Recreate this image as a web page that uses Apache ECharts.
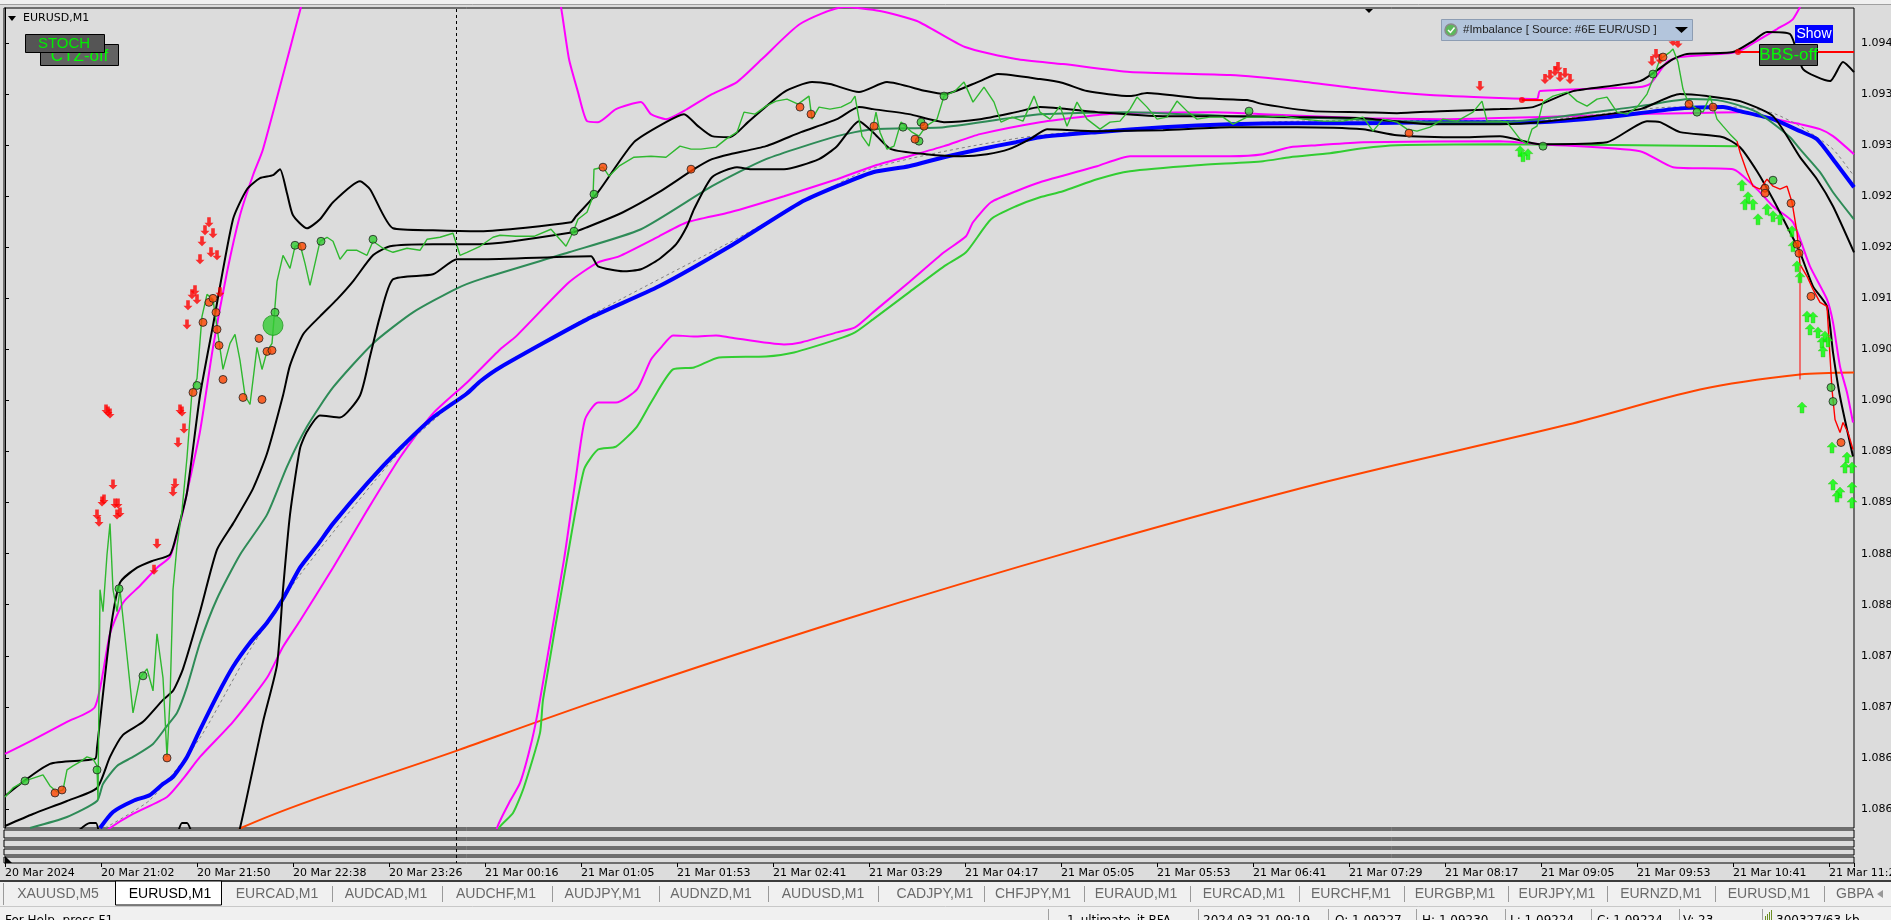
<!DOCTYPE html>
<html><head><meta charset="utf-8">
<script src="https://cdn.jsdelivr.net/npm/echarts@6/dist/echarts.min.js"></script>
<style>html,body{margin:0;padding:0;background:#dcdcdc;overflow:hidden}#c{width:1891px;height:920px}</style>
</head><body><div id="c"></div>
<script>
// ---------- DATA (x = bar index, 1 bar per minute; y = price) ----------
const xTickLabels = ['20 Mar 2024','20 Mar 21:02','20 Mar 21:50','20 Mar 22:38','20 Mar 23:26','21 Mar 00:16','21 Mar 01:05','21 Mar 01:53','21 Mar 02:41','21 Mar 03:29','21 Mar 04:17','21 Mar 05:05','21 Mar 05:53','21 Mar 06:41','21 Mar 07:29','21 Mar 08:17','21 Mar 09:05','21 Mar 09:53','21 Mar 10:41','21 Mar 11:29'];
const yTickLabels = ['1.08640','1.08691','1.08742','1.08793','1.08844','1.08895','1.08946','1.08997','1.09048','1.09099','1.09150','1.09201','1.09252','1.09303','1.09354','1.09405'];

const priceUp = [[0,1.08652],[4,1.08661],[10,1.08668],[16,1.08672],[19,1.08674],[22.5,1.08663],[26,1.08657],[29,1.08659],[31,1.08679],[34,1.08683],[37.5,1.08687],[41,1.08692],[44,1.08690],[46,1.08683],[46.5,1.08649],[47.5,1.08859],[49,1.08837],[51,1.08894],[52.5,1.08925],[54,1.08859],[56,1.08837],[57.5,1.08859],[61,1.08793],[64,1.08736],[67.5,1.08771],[71,1.08780],[74,1.08758],[76,1.08815],[79,1.08771],[81,1.08692],[82.5,1.08749],[84,1.08859],[86,1.08903],[88.5,1.08938],[91,1.08991],[93.5,1.09057],[96,1.09070],[98.5,1.09132],[101,1.09154],[104,1.09149],[106.5,1.09114],[109,1.09079],[112.5,1.09105],[115,1.09114],[117.5,1.09088],[120,1.09053],[122.5,1.09044],[126,1.09101],[128.5,1.09079],[131,1.09097],[133.5,1.09105],[136,1.09167],[139,1.09193],[142.5,1.09180],[145,1.09202],[147.5,1.09204],[150,1.09185],[152.5,1.09163],[155,1.09185],[157.5,1.09207],[161,1.09211],[164,1.09207],[167.5,1.09189],[171,1.09198],[176,1.09198],[181,1.09193],[184,1.09207],[189,1.09200],[194,1.09196],[201,1.09200],[207.5,1.09198],[211,1.09209],[217.5,1.09211],[224,1.09215],[227.5,1.09193],[231,1.09196],[237.5,1.09202],[244,1.09211],[247.5,1.09213],[255.5,1.09212],[264.5,1.09212],[273,1.09219],[280.5,1.09202],[284,1.09216],[286.5,1.09229],[291,1.09236],[294,1.09252],[294.5,1.09279],[299,1.09281],[302,1.09272],[307,1.09282],[314.5,1.09291],[323,1.09292],[330.5,1.09291],[337.5,1.09302],[343,1.09299],[348,1.09299],[355.5,1.09301],[360.5,1.09309],[366,1.09316],[369.5,1.09336],[375,1.09334],[380.5,1.09342],[385.5,1.09347],[391,1.09349],[396.5,1.09344],[402,1.09352],[403.5,1.09329],[407,1.09341],[412.5,1.09339],[418,1.09341],[423,1.09346],[425,1.09352],[428.5,1.09312],[432,1.09302],[435.5,1.09336],[437.5,1.09316],[441,1.09299],[444.5,1.09302],[448,1.09326],[453.5,1.09316],[457,1.09312],[460.5,1.09322],[466,1.09329],[469.5,1.09352],[475,1.09357],[479.5,1.09366],[484,1.09346],[489.5,1.09361],[494.5,1.09346],[498,1.09326],[503.5,1.09331],[509,1.09327],[514.5,1.09352],[517.5,1.09336],[522.5,1.09329],[527.5,1.09342],[531,1.09322],[536,1.09346],[541,1.09329],[547.5,1.09319],[552.5,1.09326],[557.5,1.09327],[562.5,1.09339],[566,1.09351],[571,1.09341],[576,1.09329],[581,1.09331],[586,1.09347],[591,1.09337],[596,1.09329],[602.5,1.09331],[609,1.09331],[614,1.09324],[621,1.09331],[629,1.09331],[639,1.09332],[649,1.09329],[659,1.09327],[669,1.09327],[679,1.09331],[684,1.09317],[689,1.09329],[696,1.09326],[701,1.09319],[706,1.09317],[712.5,1.09321],[719,1.09329],[726,1.09327],[734,1.09336],[738.5,1.09347],[741,1.09327],[747.5,1.09327],[751,1.09326],[757.5,1.09309],[761,1.09304],[763.5,1.09319],[766,1.09322],[769,1.09346],[774,1.09352],[781,1.09356],[786,1.09347],[791,1.09342],[796,1.09349],[801,1.09351],[806,1.09336],[811,1.09334],[816,1.09341],[821,1.09354],[824,1.09369],[827.5,1.09389],[832.5,1.09396],[834,1.09399],[836.5,1.09386],[839,1.09359],[841.5,1.09346],[846,1.09339],[849,1.09336],[852.5,1.09352],[856,1.09329],[859,1.09322],[862.5,1.09314],[866,1.09307]];
const priceDown = [[866,1.09307],[867.5,1.09296],[871,1.09276],[874,1.09262],[877.5,1.09259],[881,1.09269],[884,1.09262],[887.5,1.09259],[891,1.09262],[893.5,1.09246],[896,1.09216],[897.5,1.09184],[901,1.09172],[904,1.09159],[907.5,1.09146],[911,1.09142],[913.5,1.09059],[915,1.09029],[917.5,1.09016],[919,1.09026],[921.5,1.09016],[924,1.08999]];
const redWick = [[897.5,1.09182],[897.5,1.09069]];

const bandUpper = [[0,1.08653],[22.5,1.08685],[45,1.08690],[46,1.08701],[52.5,1.08815],[57.5,1.08866],[66,1.08881],[74,1.08888],[82.5,1.08894],[86,1.08916],[91,1.08956],[97.5,1.09053],[104,1.09123],[114,1.09229],[121,1.09259],[127.5,1.09270],[134,1.09273],[137.5,1.09279],[141,1.09255],[144,1.09233],[151,1.09220],[157.5,1.09229],[164,1.09246],[177.5,1.09267],[182.5,1.09259],[194,1.09220],[214,1.09218],[237.5,1.09217],[283,1.09226],[285.5,1.09232],[296.5,1.09256],[314.5,1.09306],[330.5,1.09326],[339.5,1.09334],[346.5,1.09322],[353.5,1.09312],[362.5,1.09311],[371.5,1.09326],[389.5,1.09356],[403.5,1.09366],[412.5,1.09364],[427,1.09356],[441,1.09366],[460.5,1.09357],[469.5,1.09354],[487.5,1.09367],[496.5,1.09374],[517.5,1.09369],[529,1.09365],[541,1.09357],[562.5,1.09352],[571,1.09355],[596,1.09350],[621,1.09348],[629,1.09344],[654,1.09337],[679,1.09336],[696,1.09335],[717.5,1.09337],[747.5,1.09339],[764,1.09341],[784,1.09357],[817.5,1.09367],[834,1.09389],[841,1.09394],[864,1.09396],[874,1.09407],[881,1.09416],[892.5,1.09414],[899,1.09379],[912.5,1.09367],[919,1.09386],[924.5,1.09376]];
const bandMiddle = [[0,1.08623],[14,1.08635],[31,1.08648],[46,1.08661],[52.5,1.08692],[59,1.08714],[69,1.08727],[79,1.08749],[84,1.08758],[89,1.08780],[97.5,1.08837],[106,1.08899],[114,1.08925],[124,1.08960],[131,1.08995],[139,1.09053],[142.5,1.09083],[149,1.09114],[157.5,1.09132],[166,1.09149],[174,1.09167],[184,1.09193],[192.5,1.09202],[214,1.09204],[237.5,1.09204],[284,1.09216],[291,1.09221],[309,1.09236],[327,1.09256],[344.5,1.09279],[353.5,1.09289],[362.5,1.09294],[380.5,1.09302],[398,1.09316],[416,1.09329],[427,1.09341],[434,1.09339],[452,1.09334],[469.5,1.09326],[487.5,1.09329],[505.5,1.09336],[517.5,1.09341],[546,1.09336],[579,1.09332],[612.5,1.09332],[646,1.09331],[679,1.09330],[712.5,1.09324],[747.5,1.09324],[767.5,1.09326],[817.5,1.09339],[837.5,1.09354],[851,1.09352],[867.5,1.09347],[884,1.09332],[897.5,1.09291],[906,1.09269],[914,1.09242],[924.5,1.09196]];
const bandLower = [[27.5,1.08599],[42.5,1.08626],[45.5,1.08626],[50,1.08599],[82.5,1.08599],[88.5,1.08626],[91,1.08626],[97.5,1.08599],[113.5,1.08599],[117.5,1.08621],[129,1.08727],[136,1.08784],[139,1.08859],[142.5,1.08934],[147.5,1.09000],[151,1.09017],[157.5,1.09033],[167.5,1.09031],[177.5,1.09053],[182.5,1.09092],[187.5,1.09132],[194,1.09169],[214,1.09174],[226,1.09189],[237.5,1.09189],[293,1.09192],[296.5,1.09182],[309,1.09177],[318,1.09179],[327,1.09189],[335.5,1.09204],[341,1.09222],[344.5,1.09239],[353.5,1.09271],[366,1.09281],[373,1.09279],[389.5,1.09279],[407,1.09289],[416,1.09302],[427,1.09327],[434,1.09316],[443,1.09299],[460.5,1.09294],[478.5,1.09292],[491,1.09294],[502,1.09299],[512.5,1.09309],[521,1.09319],[546,1.09317],[579,1.09318],[612.5,1.09321],[646,1.09321],[679,1.09319],[696,1.09313],[729,1.09311],[747.5,1.09312],[767.5,1.09304],[801,1.09306],[821,1.09327],[827.5,1.09326],[837.5,1.09316],[859,1.09311],[867.5,1.09301],[876,1.09277],[884,1.09249],[891,1.09222],[897.5,1.09196],[904,1.09162],[911,1.09142],[914,1.09096],[917.5,1.09052],[924,1.08992]];
const maSeaGreen = [[12.5,1.08621],[31,1.08632],[46,1.08648],[49,1.08665],[56,1.08683],[64,1.08692],[74,1.08705],[81,1.08723],[86,1.08736],[91,1.08762],[97.5,1.08806],[106,1.08850],[117.5,1.08894],[131,1.08934],[141,1.08982],[151,1.09022],[164,1.09061],[184,1.09105],[204,1.09136],[226,1.09160],[237.5,1.09169],[282,1.09196],[318,1.09219],[353.5,1.09262],[380.5,1.09289],[416,1.09312],[434,1.09319],[469.5,1.09321],[505.5,1.09331],[517.5,1.09334],[562.5,1.09336],[612.5,1.09332],[662.5,1.09330],[712.5,1.09326],[747.5,1.09326],[817.5,1.09342],[842.5,1.09349],[859,1.09347],[876,1.09336],[892.5,1.09311],[897.5,1.09299],[907.5,1.09276],[914,1.09256],[924.5,1.09229]];
const maBlue = [[47.5,1.08621],[54,1.08637],[64,1.08648],[72.5,1.08654],[79,1.08665],[84,1.08672],[91,1.08692],[97.5,1.08719],[106,1.08753],[114,1.08782],[122.5,1.08806],[131,1.08826],[139,1.08850],[147.5,1.08881],[156,1.08903],[164,1.08925],[181,1.08965],[197.5,1.09000],[214,1.09031],[231,1.09055],[237.5,1.09067],[247.5,1.09081],[291,1.09129],[327,1.09162],[362.5,1.09202],[398,1.09246],[416,1.09262],[434,1.09276],[452,1.09282],[469.5,1.09291],[487.5,1.09299],[505.5,1.09306],[517.5,1.09311],[546,1.09316],[579,1.09321],[612.5,1.09324],[646,1.09325],[679,1.09325],[712.5,1.09326],[767.5,1.09326],[801,1.09331],[834,1.09339],[859,1.09341],[867.5,1.09337],[884,1.09329],[897.5,1.09317],[906,1.09309],[914,1.09289],[924.5,1.09261]];
const maGrayDash = [[50,1.08621],[72.5,1.08649],[97.5,1.08711],[122.5,1.08799],[147.5,1.08874],[197.5,1.08997],[237.5,1.09067],[291,1.09131],[362.5,1.09206],[432.5,1.09279],[517.5,1.09313],[647.5,1.09327],[767.5,1.09328],[834,1.09341],[867.5,1.09341],[884,1.09335],[897.5,1.09322],[914,1.09299],[924.5,1.09272]];
const envUpper = [[0,1.08695],[14,1.08709],[31,1.08727],[45,1.08742],[52.5,1.08815],[59,1.08846],[67.5,1.08863],[76,1.08881],[82.5,1.08892],[87.5,1.08925],[91,1.08956],[97.5,1.09017],[104,1.09101],[111,1.09176],[117.5,1.09233],[124,1.09273],[129,1.09299],[148,1.09441],[162.5,1.09549],[267.5,1.09549],[278,1.09441],[282,1.09389],[286.5,1.09356],[291,1.09327],[296.5,1.09326],[305.5,1.09339],[318,1.09346],[323,1.09334],[330.5,1.09329],[341,1.09339],[353.5,1.09354],[366,1.09366],[378.5,1.09389],[397.5,1.09424],[419.5,1.09441],[437.5,1.09437],[456,1.09427],[480,1.09401],[505.5,1.09389],[529,1.09384],[562.5,1.09376],[612.5,1.09373],[646,1.09367],[679,1.09359],[712.5,1.09353],[747.5,1.09350],[766,1.09349],[767.5,1.09357],[817.5,1.09361],[822.5,1.09364],[831,1.09386],[837.5,1.09391],[866,1.09396],[877.5,1.09409],[886,1.09419],[894,1.09429],[902.5,1.09459],[924.5,1.09509]];
const envMid = [[45,1.08609],[52.5,1.08621],[64,1.08635],[81,1.08652],[89,1.08670],[97.5,1.08692],[114,1.08727],[131,1.08771],[139,1.08802],[147.5,1.08828],[164,1.08881],[181,1.08938],[197.5,1.08991],[214,1.09035],[231,1.09066],[247.5,1.09099],[255.5,1.09112],[282,1.09166],[296.5,1.09186],[307,1.09192],[327,1.09212],[341,1.09226],[362.5,1.09236],[389.5,1.09252],[416,1.09269],[434,1.09282],[452,1.09292],[469.5,1.09302],[487.5,1.09314],[517.5,1.09326],[541,1.09332],[557.5,1.09335],[605,1.09336],[629,1.09334],[679,1.09330],[717.5,1.09329],[817.5,1.09334],[867.5,1.09336],[876,1.09333],[892.5,1.09326],[897.5,1.09324],[907.5,1.09319],[914,1.09312],[924.5,1.09294]];
const envLow = [[245,1.08599],[246,1.08621],[252,1.08646],[257.5,1.08666],[263.5,1.08709],[267.5,1.08749],[279.5,1.08889],[285.5,1.08972],[290,1.09029],[296.5,1.09046],[305.5,1.09046],[316,1.09059],[323,1.09089],[328.5,1.09102],[334,1.09113],[344.5,1.09112],[355.5,1.09113],[362.5,1.09111],[389.5,1.09104],[398,1.09106],[416,1.09116],[425,1.09121],[434,1.09136],[452,1.09166],[469.5,1.09196],[480.5,1.09212],[484,1.09226],[493,1.09246],[505.5,1.09257],[517.5,1.09266],[546,1.09282],[562.5,1.09292],[612.5,1.09292],[629,1.09294],[642.5,1.09301],[656,1.09303],[679,1.09306],[747.5,1.09307],[767.5,1.09304],[817.5,1.09297],[834,1.09281],[864,1.09279],[876,1.09259],[884,1.09242],[894,1.09226],[902.5,1.09182],[911,1.09149],[914,1.09126],[917.5,1.09082],[921,1.09056],[924,1.09026]];
const envLowGreen = [[246,1.08599],[247,1.08621],[254,1.08636],[259.5,1.08662],[267.5,1.08716],[269,1.08749],[281,1.08889],[289.5,1.08979],[296.5,1.08999],[305.5,1.09002],[316,1.09022],[323,1.09046],[334,1.09079],[344.5,1.09081],[357,1.09091],[380.5,1.09092],[394.5,1.09096],[416,1.09109],[425,1.09116],[434,1.09129],[452,1.09156],[469.5,1.09182],[480.5,1.09196],[493,1.09229],[505.5,1.09242],[517.5,1.09251],[529,1.09257],[546,1.09269],[562.5,1.09277],[596,1.09283],[629,1.09287],[642.5,1.09291],[662.5,1.09295],[679,1.09300],[696,1.09303],[747.5,1.09304],[866,1.09302]];
const maLong = [[115,1.08599],[118,1.08621],[227,1.08699],[297.5,1.08749],[419.5,1.08829],[540,1.08901],[661,1.08967],[781.5,1.09024],[847.5,1.09059],[897.5,1.09074],[924.5,1.09076]];
const bbsLevel = [[866.5,1.09396],[924.5,1.09396]];
const redSegment = [[758.5,1.09348],[769,1.09348]];

const dotsGreen = [[10,1.08668],[46,1.08679],[57,1.08860],[69,1.08773],[96,1.09063],[135,1.09136],[145,1.09203],[158,1.09207],[184,1.09209],[284.5,1.09217],[294.5,1.09254],[449,1.09321],[458,1.09326],[457,1.09307],[469.5,1.09352],[622,1.09337],[769,1.09302],[824,1.09374],[846,1.09336],[884,1.09268],[913,1.09061],[914,1.09047]];
const dotBig = [[134,1.09123]];
const dotsOrange = [[25,1.08656],[28.5,1.08659],[81,1.08691],[94,1.09056],[99,1.09126],[102,1.09146],[104,1.09150],[105.5,1.09136],[106,1.09119],[107,1.09103],[109,1.09069],[119,1.09051],[127,1.09110],[128.5,1.09049],[131,1.09097],[133.5,1.09098],[148.5,1.09202],[299,1.09281],[343,1.09279],[397.5,1.09341],[403,1.09334],[434.5,1.09322],[455,1.09309],[459.5,1.09322],[702,1.09315],[829,1.09391],[842,1.09344],[854,1.09341],[880,1.09260],[880,1.09255],[893,1.09245],[896,1.09204],[897,1.09195],[903,1.09152],[918,1.09006]];
const dotsRed = [[866.5,1.09396],[758.5,1.09348]];
const arrowsDown = [[50.5,1.09039],[51.5,1.09037],[52.5,1.09035],[54,1.08964],[48.5,1.08947],[49.5,1.08949],[55,1.08945],[56.5,1.08945],[46,1.08934],[47,1.08927],[56,1.08934],[57.5,1.08936],[76,1.08905],[74.5,1.08879],[85,1.08965],[84,1.08957],[86.5,1.09006],[89.5,1.09020],[88.5,1.09037],[87.5,1.09039],[91,1.09124],[91.5,1.09143],[93.5,1.09154],[95,1.09158],[96,1.09149],[97.5,1.09189],[98.5,1.09207],[100,1.09218],[102,1.09226],[104,1.09215],[103,1.09196],[106,1.09193],[107.5,1.09156],[737.5,1.09362],[770,1.09369],[772.5,1.09373],[775,1.09377],[777.5,1.09371],[780,1.09375],[782.5,1.09369],[776.5,1.09381],[823.5,1.09387],[825.5,1.09394],[827.5,1.09389],[834,1.09407],[836.5,1.09405]];
const arrowsUp = [[757.5,1.09297],[759,1.09292],[761.5,1.09294],[868.5,1.09263],[870,1.09244],[871.5,1.09251],[874,1.09244],[876.5,1.09229],[881,1.09239],[884,1.09232],[887.5,1.09229],[893.5,1.09217],[894,1.09202],[896,1.09182],[897.5,1.09171],[901,1.09132],[902.5,1.09119],[904,1.09131],[906.5,1.09116],[908.5,1.09106],[909,1.09097],[910,1.09112],[911.5,1.09107],[898.5,1.09041],[913.5,1.09001],[914,1.08964],[916,1.08952],[917.5,1.08956],[920,1.08981],[921,1.08991],[923.5,1.08981],[923.5,1.08961],[923.5,1.08946]];

const tabNames = ['XAUUSD,M5','EURUSD,M1','EURCAD,M1','AUDCAD,M1','AUDCHF,M1','AUDJPY,M1','AUDNZD,M1','AUDUSD,M1','CADJPY,M1','CHFJPY,M1','EURAUD,M1','EURCAD,M1','EURCHF,M1','EURGBP,M1','EURJPY,M1','EURNZD,M1','EURUSD,M1','GBPA'];
const statusTexts = ['1_ultimate_it BFA','2024.03.21 09:19','O: 1.09227','H: 1.09230','L: 1.09224','C: 1.09224','V: 23','300327/63 kb'];

// ---------- LAYOUT ----------
const tabCenters = [58,170,277,386,496,603,711,823,935,1033,1136,1244,1351,1455,1557,1661,1769,1836];
const tabSeps = [332,442,552,659,768,878,984,1084,1190,1299,1404,1508,1607,1715,1824];
const statusX = [1067,1203,1335,1422,1510,1597,1683,1776];
const statusSeps = [1048,1198,1328,1416,1505,1591,1679,1762];

const chart = echarts.init(document.getElementById('c'), null, {renderer:'canvas', width:1891, height:920});
const FONT = 'DejaVu Sans';

function line(data, color, width, extra) {
  return Object.assign({type:'line', data, xAxisIndex:0, yAxisIndex:0, symbol:'none', silent:true,
    smooth:0.2, lineStyle:{color, width}, z:2, clip:true}, extra || {});
}
const DOWN = 'path://M3,0L7,0L7,6L10,6L5,11L0,6L3,6Z';
const UP = 'path://M5,0L10,5L7,5L7,11L3,11L3,5L0,5Z';

const subTops = [830, 840, 849, 857];
const subHeights = [8, 7, 6, 6];
const NB = {outerBoundsMode:'none', containLabel:false};

const grids = [
  Object.assign({left:4, top:8, width:1850, height:820, show:true, borderColor:'#000', borderWidth:1, backgroundColor:'transparent'}, NB),
  Object.assign({left:4, top:43, width:1850, height:766, show:false}, NB)
];
subTops.forEach((t,k)=>grids.push(Object.assign({left:4, top:t, width:1850, height:subHeights[k], show:true, borderColor:'#000', borderWidth:1, backgroundColor:'#dcdcdc'}, NB)));
grids.push(Object.assign({left:5, top:857, width:1849, height:6, show:false}, NB));

const xAxes = [
  {gridIndex:0, type:'value', min:-0.5, max:924.5, show:false},
  {gridIndex:1, type:'value', min:-0.5, max:924.5, show:false}
];
subTops.forEach((t,k)=>xAxes.push({gridIndex:2+k, type:'value', min:0, max:1, show:false}));
xAxes.push({gridIndex:6, type:'value', min:0, max:924.5, interval:48, position:'bottom',
  axisLine:{show:false}, splitLine:{show:false},
  axisTick:{show:true, length:4, lineStyle:{color:'#000', width:1}},
  axisLabel:{show:true, margin:5, align:'left', color:'#000', fontFamily:FONT, fontSize:11, hideOverlap:false,
    showMinLabel:true, showMaxLabel:true,
    formatter:(v)=>{const k=Math.round(v/48); return (Math.abs(v-k*48)<1e-6 && xTickLabels[k]) ? xTickLabels[k] : '';}}});

const yAxes = [
  {gridIndex:0, type:'value', min:1.08621, max:1.09440, position:'right', scale:true,
    axisLine:{show:true, lineStyle:{color:'#000', width:1}}, axisTick:{show:false}, axisLabel:{show:false}, splitLine:{show:false}},
  {gridIndex:1, type:'value', min:0, max:15, interval:1, position:'right',
    axisLine:{show:false}, splitLine:{show:false},
    axisTick:{show:true, length:4, lineStyle:{color:'#000'}},
    axisLabel:{show:true, margin:7, color:'#000', fontFamily:FONT, fontSize:11, hideOverlap:false,
      formatter:(v)=>yTickLabels[Math.round(v)] || ''}}
];
subTops.forEach((t,k)=>yAxes.push({gridIndex:2+k, type:'value', min:0, max:1, show:false}));
yAxes.push({gridIndex:6, type:'value', min:0, max:1, show:false});

const series = [
  line(maLong, '#ff4500', 2, {smooth:0.3}),
  line(envLowGreen, '#32cd32', 2),
  line(envLow, '#ff00ff', 2),
  line(envMid, '#ff00ff', 2),
  line(envUpper, '#ff00ff', 2),
  line(maGrayDash, '#808080', 1, {lineStyle:{color:'#808080', width:1, type:[3,3]}}),
  line(maBlue, '#0000ff', 4),
  line(maSeaGreen, '#2e8b57', 2),
  line(bandLower, '#000000', 2),
  line(bandMiddle, '#000000', 2),
  line(bandUpper, '#000000', 2),
  line(bbsLevel, '#ff0000', 2, {smooth:false}),
  line(redSegment, '#ff0000', 2, {smooth:false}),
  line(priceUp, '#2fb82f', 1.4, {smooth:false, z:3}),
  line(priceDown, '#ff0000', 1.4, {smooth:false, z:3}),
  line(redWick, '#ff0000', 1, {smooth:false, z:3}),
  {type:'scatter', data:arrowsDown, symbol:DOWN, symbolSize:[9,10], itemStyle:{color:'#ff0000'}, silent:true, z:6},
  {type:'scatter', data:arrowsUp, symbol:UP, symbolSize:[10,11], itemStyle:{color:'#00ff00', borderColor:'#44bb22', borderWidth:0.5}, silent:true, z:6},
  {type:'scatter', data:dotsGreen, symbol:'circle', symbolSize:8, itemStyle:{color:'#33cc33', borderColor:'#222', borderWidth:1}, silent:true, z:7},
  {type:'scatter', data:dotsOrange, symbol:'circle', symbolSize:8, itemStyle:{color:'#ff4500', borderColor:'#222', borderWidth:1}, silent:true, z:7},
  {type:'scatter', data:dotsRed, symbol:'circle', symbolSize:6, itemStyle:{color:'#ff0000'}, silent:true, z:7},
  {type:'scatter', data:dotBig, symbol:'circle', symbolSize:20, itemStyle:{color:'#33cc33', borderColor:'#229922', borderWidth:1}, silent:true, z:7}
];

// ---------- DECORATION (window chrome) ----------
const g = [];
g.push({type:'rect', shape:{x:0,y:0,width:1891,height:4}, style:{fill:'#f0f0f0'}, z:1});
g.push({type:'line', shape:{x1:0,y1:4.5,x2:1891,y2:4.5}, style:{stroke:'#a0a0a0', lineWidth:1}, z:1});
g.push({type:'polygon', shape:{points:[[8,16],[16,16],[12,21]]}, style:{fill:'#000'}, z:20});
g.push({type:'text', x:23, y:18, style:{text:'EURUSD,M1', font:'11px "DejaVu Sans"', fill:'#000', verticalAlign:'middle'}, z:20});
g.push({type:'rect', shape:{x:40.5,y:44.5,width:78,height:21}, style:{fill:'#626262', stroke:'#000', lineWidth:1}, z:20});
g.push({type:'text', x:79.5, y:56, style:{text:'CTZ-off', font:'17px "Liberation Sans"', fill:'#00ff00', align:'center', verticalAlign:'middle'}, z:20});
g.push({type:'rect', shape:{x:25.5,y:34.5,width:79,height:18}, style:{fill:'#555555', stroke:'#000', lineWidth:1}, z:21});
g.push({type:'text', x:64, y:44, style:{text:'STOCH', font:'15px "Liberation Sans"', fill:'#00ee00', align:'center', verticalAlign:'middle'}, z:21});
// imbalance widget
g.push({type:'rect', shape:{x:1441.5,y:19.5,width:251,height:21}, style:{fill:'#b3c5dc', stroke:'#8d9db3', lineWidth:1}, z:20});
g.push({type:'circle', shape:{cx:1451,cy:30,r:6}, style:{fill:'#5cb85c', stroke:'#8a8a8a', lineWidth:1.5}, z:21});
g.push({type:'polyline', shape:{points:[[1448,30],[1450.5,32.5],[1454.5,27.5]]}, style:{stroke:'#fff', lineWidth:1.5, fill:null}, z:22});
g.push({type:'text', x:1463, y:30, style:{text:'#Imbalance [ Source: #6E EUR/USD ]', font:'11.5px "Liberation Sans"', fill:'#222', verticalAlign:'middle'}, z:21});
g.push({type:'polygon', shape:{points:[[1675,27],[1688,27],[1681.5,33]]}, style:{fill:'#000'}, z:21});
// show / BBS-off
g.push({type:'rect', shape:{x:1795,y:25,width:38,height:18}, style:{fill:'#0000ff'}, z:20});
g.push({type:'text', x:1814, y:34, style:{text:'Show', font:'14px "Liberation Sans"', fill:'#fff', align:'center', verticalAlign:'middle'}, z:21});
g.push({type:'rect', shape:{x:1759.5,y:44.5,width:58,height:21}, style:{fill:'#555555', stroke:'#000', lineWidth:1}, z:20});
g.push({type:'text', x:1788.5, y:55.5, style:{text:'BBS-off', font:'17px "Liberation Sans"', fill:'#00ff00', align:'center', verticalAlign:'middle'}, z:21});
// top shift marker and bottom-left marker
g.push({type:'polygon', shape:{points:[[1365,9],[1373,9],[1369,13]]}, style:{fill:'#000'}, z:20});
g.push({type:'polygon', shape:{points:[[5,856],[5,863],[12,863]]}, style:{fill:'#000'}, z:20});
// crosshair dashed line
g.push({type:'line', shape:{x1:456.5,y1:9,x2:456.5,y2:863}, style:{stroke:'#000', lineWidth:1, lineDash:[3,3]}, z:15});
// tab bar
g.push({type:'rect', shape:{x:0,y:880,width:1891,height:26}, style:{fill:'#f0f0f0'}, z:1});
g.push({type:'line', shape:{x1:0,y1:881,x2:1891,y2:881}, style:{stroke:'#000', lineWidth:1.5}, z:2});
g.push({type:'rect', shape:{x:115.5,y:881,width:106,height:24}, style:{fill:'#ffffff', stroke:'#000', lineWidth:1}, z:3});
g.push({type:'line', shape:{x1:3.5,y1:883,x2:3.5,y2:905}, style:{stroke:'#9a9a9a', lineWidth:1}, z:3});
tabSeps.forEach(x=>g.push({type:'line', shape:{x1:x+0.5,y1:886,x2:x+0.5,y2:902}, style:{stroke:'#9a9a9a', lineWidth:1}, z:3}));
tabNames.forEach((t,k)=>{
  const isLast = k===tabNames.length-1;
  g.push({type:'text', x:tabCenters[k], y:894,
    style:{text:t, font:'14px "Liberation Sans"', fill: k===1 ? '#000' : '#6a6a6a', align: isLast?'left':'center', verticalAlign:'middle'}, z:4});
});
g.push({type:'polygon', shape:{points:[[1883,890],[1883,898],[1877,894]]}, style:{fill:'#999'}, z:4});
// status bar
g.push({type:'rect', shape:{x:0,y:906,width:1891,height:14}, style:{fill:'#f0f0f0'}, z:1});
g.push({type:'line', shape:{x1:0,y1:906.5,x2:1891,y2:906.5}, style:{stroke:'#c8c8c8', lineWidth:1}, z:2});
statusSeps.forEach(x=>g.push({type:'line', shape:{x1:x+0.5,y1:909,x2:x+0.5,y2:920}, style:{stroke:'#a0a0a0', lineWidth:1}, z:3}));
g.push({type:'text', x:5, y:915, style:{text:'For Help, press F1', font:'12px "DejaVu Sans"', fill:'#000', verticalAlign:'top'}, z:4});
statusTexts.forEach((t,k)=>g.push({type:'text', x:statusX[k], y:915, style:{text:t, font:'12px "DejaVu Sans"', fill:'#000', verticalAlign:'top'}, z:4}));
[0,2,4,6].forEach(d=>g.push({type:'rect', shape:{x:1765+d*1.0,y:910+(6-d),width:1,height:10-(6-d)}, style:{fill:'#6b8e23'}, z:4}));

chart.setOption({
  animation:false,
  backgroundColor:'#dcdcdc',
  grid:grids, xAxis:xAxes, yAxis:yAxes, series,
  graphic:{elements:g}
});
</script></body></html>
